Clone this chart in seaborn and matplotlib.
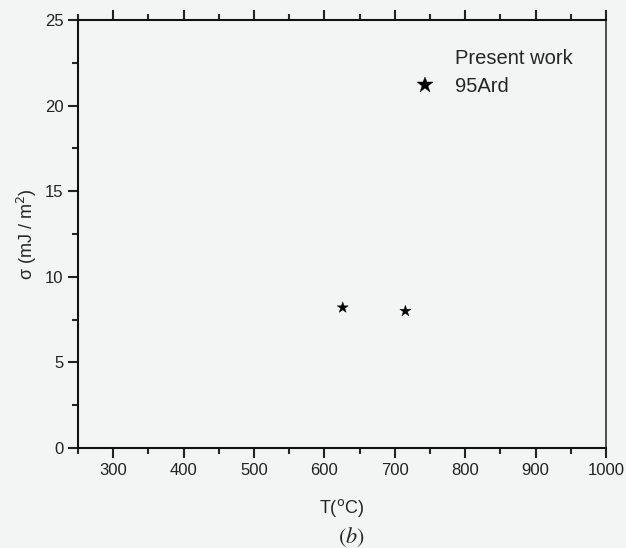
import matplotlib
matplotlib.use('Agg')
import matplotlib.pyplot as plt
import seaborn as sns
import pandas as pd
from matplotlib.lines import Line2D
from matplotlib.ticker import MultipleLocator, FixedLocator

# data
temps = [626, 715]
sigma = [8.2, 8.0]
source = ['95Ard', '95Ard']
x_ticks = [300, 400, 500, 600, 700, 800, 900, 1000]

sns.set_style('ticks')
plt.rcParams['font.family'] = ['Liberation Sans', 'DejaVu Sans']

bg = '#f3f4f4'
fig = plt.figure(figsize=(6.26, 5.48), dpi=100, facecolor=bg)
ax = fig.add_axes([0.1246, 0.1825, 0.8435, 0.781])
ax.set_facecolor(bg)

df = pd.DataFrame({'T': temps, 'sigma': sigma, 'src': source})
sns.scatterplot(data=df, x='T', y='sigma', hue='src', palette=['black'],
                marker='*', s=70, edgecolor='black', linewidth=0.3, ax=ax)

ax.xaxis.set_major_locator(FixedLocator(x_ticks))
ax.xaxis.set_minor_locator(MultipleLocator(50))
ax.yaxis.set_major_locator(MultipleLocator(5))
ax.yaxis.set_minor_locator(MultipleLocator(2.5))
ax.set_xlim(250, 1000)
ax.set_ylim(0, 25)
ax.tick_params(which='major', direction='out', length=7, width=1.5, labelsize=12, colors='#222222')
ax.tick_params(which='minor', direction='out', length=4, width=1.5)
ax.tick_params(axis='x', which='both', top=True, bottom=True)
ax.tick_params(axis='y', which='both', left=True, right=False)
for s in ['left', 'bottom', 'top']:
    ax.spines[s].set_linewidth(1.5)
    ax.spines[s].set_color('#111111')
ax.spines['right'].set_linewidth(1.2)
ax.spines['right'].set_color('#333333')

ax.set_xlabel('T($^{\\mathrm{o}}$C)', fontsize=13, labelpad=14)
ax.set_ylabel('σ (mJ / m$^2$)', fontsize=13, labelpad=4)

# legend: header line aligned with the entry text
handles, labels = ax.get_legend_handles_labels()
blank = Line2D([], [], linestyle='none', marker=None)
if ax.get_legend():
    ax.get_legend().remove()
leg = ax.legend([blank] + handles, ['Present work'] + labels, frameon=False,
                loc='upper left', bbox_to_anchor=(0.6, 0.975), fontsize=14.5,
                markerscale=1.4, handletextpad=0.9, handlelength=1.2,
                labelspacing=0.45)

fig.text(0.562, 0.008, '$(b)$', fontsize=16, math_fontfamily='stix', ha='center')

fig.savefig('out.png', dpi=100, facecolor=bg)
